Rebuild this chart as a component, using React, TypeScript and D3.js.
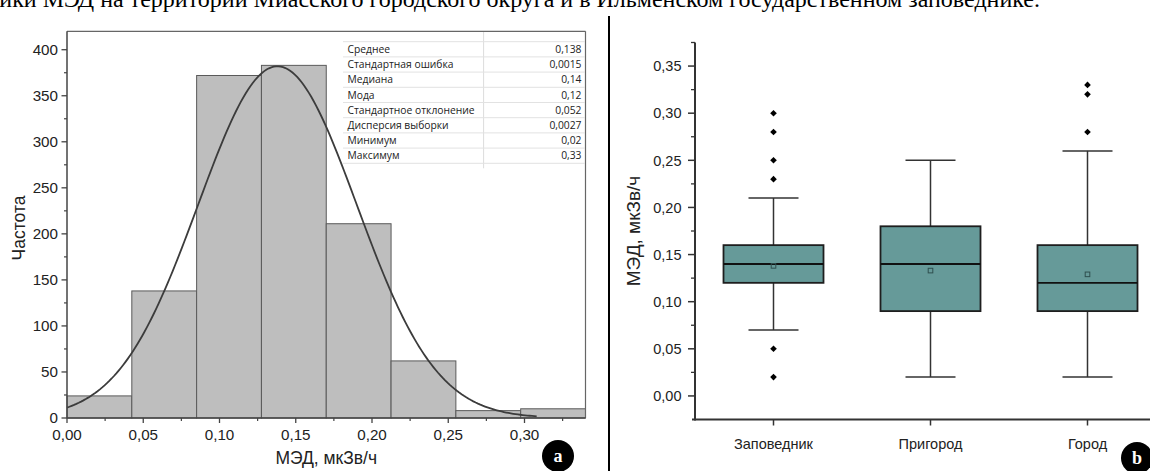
import React from 'react';
import * as d3 from 'd3';

// ---------- Panel a: histogram ----------
const histBinStart = [0, 0.0425, 0.085, 0.1275, 0.17, 0.2125, 0.255, 0.2975];
const histBinWidth = 0.0425;
const histCounts = [24, 138, 372, 383, 211, 62, 8, 10];
const fitMean = 0.138;
const fitSd = 0.052;
const fitPeak = 382;
const fitEnd = 0.308;
const histXTicks = [0, 0.05, 0.1, 0.15, 0.2, 0.25, 0.3];
const histXMinor = [0.025, 0.075, 0.125, 0.175, 0.225, 0.275, 0.325];
const histYTicks = [0, 50, 100, 150, 200, 250, 300, 350, 400];
const histYMinor = [25, 75, 125, 175, 225, 275, 325, 375];
const statLabels = ['Среднее', 'Стандартная ошибка', 'Медиана', 'Мода', 'Стандартное отклонение', 'Дисперсия выборки', 'Минимум', 'Максимум'];
const statValues = ['0,138', '0,0015', '0,14', '0,12', '0,052', '0,0027', '0,02', '0,33'];

// ---------- Panel b: box plots ----------
const groups = ['Заповедник', 'Пригород', 'Город'];
const boxQ1 = [0.12, 0.09, 0.09];
const boxMedian = [0.14, 0.14, 0.12];
const boxQ3 = [0.16, 0.18, 0.16];
const whiskerLow = [0.07, 0.02, 0.02];
const whiskerHigh = [0.21, 0.25, 0.26];
const boxMean = [0.138, 0.133, 0.129];
const boxOutliers = [[0.30, 0.28, 0.25, 0.23, 0.05, 0.02], [], [0.33, 0.32, 0.28]];
const boxYTicks = [0, 0.05, 0.1, 0.15, 0.2, 0.25, 0.3, 0.35];
const boxYMinor = [0.025, 0.075, 0.125, 0.175, 0.225, 0.275, 0.325, 0.375];

const caption = 'Рисунок 3 – Статистические характеристики МЭД на территории Миасского городского округа и в Ильменском государственном заповеднике.';

const fmt2 = (v: number) => d3.format('.2f')(v).replace('.', ',');
const SANS = '"Liberation Sans", Arial, sans-serif';

export default function App() {
  // histogram scales
  const hx = d3.scaleLinear().domain([0, 0.34]).range([67, 585.5]);
  const hy = d3.scaleLinear().domain([0, 420]).range([418, 31.3]);
  const fitPts = d3.range(0, 201).map((i) => (fitEnd * i) / 200);
  const fitLine = d3
    .line<number>()
    .x((v) => hx(v))
    .y((v) => hy(fitPeak * Math.exp(-0.5 * ((v - fitMean) / fitSd) ** 2)));

  // box scales
  const bx = d3.scalePoint<string>().domain(groups).range([695, 1166]).padding(0.5);
  const by = d3.scaleLinear().domain([-0.025, 0.375]).range([419.5, 42.5]);
  const boxW = 100;
  const capW = 50;
  const diamond = (cx: number, cy: number, r: number) =>
    `M${cx},${cy - r}L${cx + r},${cy}L${cx},${cy + r}L${cx - r},${cy}Z`;

  const tableTop = 41.7;
  const rowH = 15.2;

  return (
    <svg
      width={1150}
      height={471}
      viewBox="0 0 1150 471"
      style={{ position: 'absolute', left: 0, top: 0, background: '#fff' }}
    >
      <rect x={0} y={0} width={1150} height={471} fill="#fff" />
      {/* cut-off caption line */}
      <text
        x={1040}
        y={7}
        textAnchor="end"
        fontFamily='"Liberation Serif", "Times New Roman", serif'
        fontSize={24}
        fill="#000"
      >
        {caption}
      </text>
      {/* separator */}
      <line x1={609} x2={609} y1={16} y2={471} stroke="#000" strokeWidth={2} />

      {/* ===== Panel a ===== */}
      <g>
        {histCounts.map((c, i) => (
          <rect
            key={i}
            x={hx(histBinStart[i])}
            y={hy(c)}
            width={hx(histBinStart[i] + histBinWidth) - hx(histBinStart[i])}
            height={hy(0) - hy(c)}
            fill="#bebebe"
            stroke="#5a5a5a"
            strokeWidth={1}
          />
        ))}
        <path d={fitLine(fitPts) || ''} fill="none" stroke="#3c3c3c" strokeWidth={1.8} />
        {/* frame */}
        <line x1={hx(0)} x2={hx(0.34)} y1={hy(420)} y2={hy(420)} stroke="#666" strokeWidth={1.2} />
        <line x1={hx(0.34)} x2={hx(0.34)} y1={hy(420)} y2={hy(0)} stroke="#666" strokeWidth={1.2} />
        <line x1={hx(0)} x2={hx(0.34)} y1={hy(0)} y2={hy(0)} stroke="#444" strokeWidth={1.5} />
        <line x1={hx(0)} x2={hx(0)} y1={hy(420)} y2={hy(0)} stroke="#444" strokeWidth={1.5} />
        {/* stats table */}
        <g fontFamily='"Open Sans", "Noto Sans", sans-serif' fontSize={10.3} fill="#222">
          <line x1={483.6} x2={483.6} y1={32} y2={tableTop + rowH * 8 + 5} stroke="#dcdcdc" strokeWidth={1} />
          {d3.range(0, 9).map((i) => (
            <line key={i} x1={343} x2={585} y1={tableTop + rowH * i} y2={tableTop + rowH * i} stroke="#e2e2e2" strokeWidth={1} />
          ))}
          {statLabels.map((s, i) => (
            <text key={s} x={347.5} y={tableTop + rowH * i + rowH / 2 + 3.6}>
              {s}
            </text>
          ))}
          {statValues.map((s, i) => (
            <text key={i} x={581.5} y={tableTop + rowH * i + rowH / 2 + 3.6} textAnchor="end">
              {s}
            </text>
          ))}
        </g>
        {/* axes ticks */}
        <g fontFamily={SANS} fontSize={15.2} fill="#222">
          {histXTicks.map((t) => (
            <g key={t}>
              <line x1={hx(t)} x2={hx(t)} y1={hy(0)} y2={hy(0) + 5} stroke="#444" strokeWidth={1.3} />
              <text x={hx(t)} y={hy(0) + 21.5} textAnchor="middle">
                {fmt2(t)}
              </text>
            </g>
          ))}
          {histXMinor.map((t) => (
            <line key={t} x1={hx(t)} x2={hx(t)} y1={hy(0)} y2={hy(0) + 3} stroke="#444" strokeWidth={1.2} />
          ))}
          {histYTicks.map((t) => (
            <g key={t}>
              <line x1={hx(0) - 5.5} x2={hx(0)} y1={hy(t)} y2={hy(t)} stroke="#444" strokeWidth={1.3} />
              <text x={hx(0) - 9} y={hy(t) + 5.4} textAnchor="end">
                {t}
              </text>
            </g>
          ))}
          {histYMinor.map((t) => (
            <line key={t} x1={hx(0) - 3} x2={hx(0)} y1={hy(t)} y2={hy(t)} stroke="#444" strokeWidth={1.2} />
          ))}
          <text x={(hx(0) + hx(0.34)) / 2} y={464} textAnchor="middle" fontSize={17.5}>
            МЭД, мкЗв/ч
          </text>
          <text transform={`translate(25,228) rotate(-90)`} textAnchor="middle" fontSize={17.5}>
            Частота
          </text>
        </g>
        <circle cx={558} cy={456} r={16} fill="#000" />
        <text x={558} y={462} textAnchor="middle" fill="#fff" fontFamily='"Liberation Serif", serif' fontWeight="bold" fontSize={18}>
          a
        </text>
      </g>

      {/* ===== Panel b ===== */}
      <g>
        {groups.map((g, i) => {
          const cx = bx(g) as number;
          return (
            <g key={g}>
              <line x1={cx} x2={cx} y1={by(boxQ3[i])} y2={by(whiskerHigh[i])} stroke="#333" strokeWidth={1.5} />
              <line x1={cx} x2={cx} y1={by(boxQ1[i])} y2={by(whiskerLow[i])} stroke="#333" strokeWidth={1.5} />
              <line x1={cx - capW / 2} x2={cx + capW / 2} y1={by(whiskerHigh[i])} y2={by(whiskerHigh[i])} stroke="#333" strokeWidth={1.5} />
              <line x1={cx - capW / 2} x2={cx + capW / 2} y1={by(whiskerLow[i])} y2={by(whiskerLow[i])} stroke="#333" strokeWidth={1.5} />
              <rect
                x={cx - boxW / 2}
                y={by(boxQ3[i])}
                width={boxW}
                height={by(boxQ1[i]) - by(boxQ3[i])}
                fill="#669a99"
                stroke="#1e1e1e"
                strokeWidth={1.8}
              />
              <line x1={cx - boxW / 2} x2={cx + boxW / 2} y1={by(boxMedian[i])} y2={by(boxMedian[i])} stroke="#111" strokeWidth={1.8} />
              <rect x={cx - 2.3} y={by(boxMean[i]) - 2.3} width={4.6} height={4.6} fill="none" stroke="#2f4f4f" strokeWidth={1} />
              {boxOutliers[i].map((o, k) => (
                <path key={k} d={diamond(cx, by(o), 3.3)} fill="#000" />
              ))}
              <line x1={cx} x2={cx} y1={by(-0.025)} y2={by(-0.025) + 6} stroke="#333" strokeWidth={1.5} />
              <text x={cx} y={449} textAnchor="middle" fontFamily={SANS} fontSize={14.5} fill="#222">
                {g}
              </text>
            </g>
          );
        })}
        {/* axes */}
        <line x1={692} x2={1166} y1={by(-0.025)} y2={by(-0.025)} stroke="#333" strokeWidth={2} />
        <line x1={695} x2={695} y1={by(0.375)} y2={by(-0.025) + 1} stroke="#333" strokeWidth={2} />
        <g fontFamily={SANS} fontSize={14.5} fill="#222">
          {boxYTicks.map((t) => (
            <g key={t}>
              <line x1={688} x2={695} y1={by(t)} y2={by(t)} stroke="#333" strokeWidth={1.5} />
              <text x={681.5} y={by(t) + 5.2} textAnchor="end">
                {fmt2(t)}
              </text>
            </g>
          ))}
          {boxYMinor.map((t) => (
            <line key={t} x1={691} x2={695} y1={by(t)} y2={by(t)} stroke="#333" strokeWidth={1.3} />
          ))}
          <text transform={`translate(640,231) rotate(-90)`} textAnchor="middle" fontSize={19}>
            МЭД, мкЗв/ч
          </text>
        </g>
        <circle cx={1137} cy={458} r={16} fill="#000" />
        <text x={1137} y={464} textAnchor="middle" fill="#fff" fontFamily='"Liberation Serif", serif' fontWeight="bold" fontSize={18}>
          b
        </text>
      </g>
    </svg>
  );
}
